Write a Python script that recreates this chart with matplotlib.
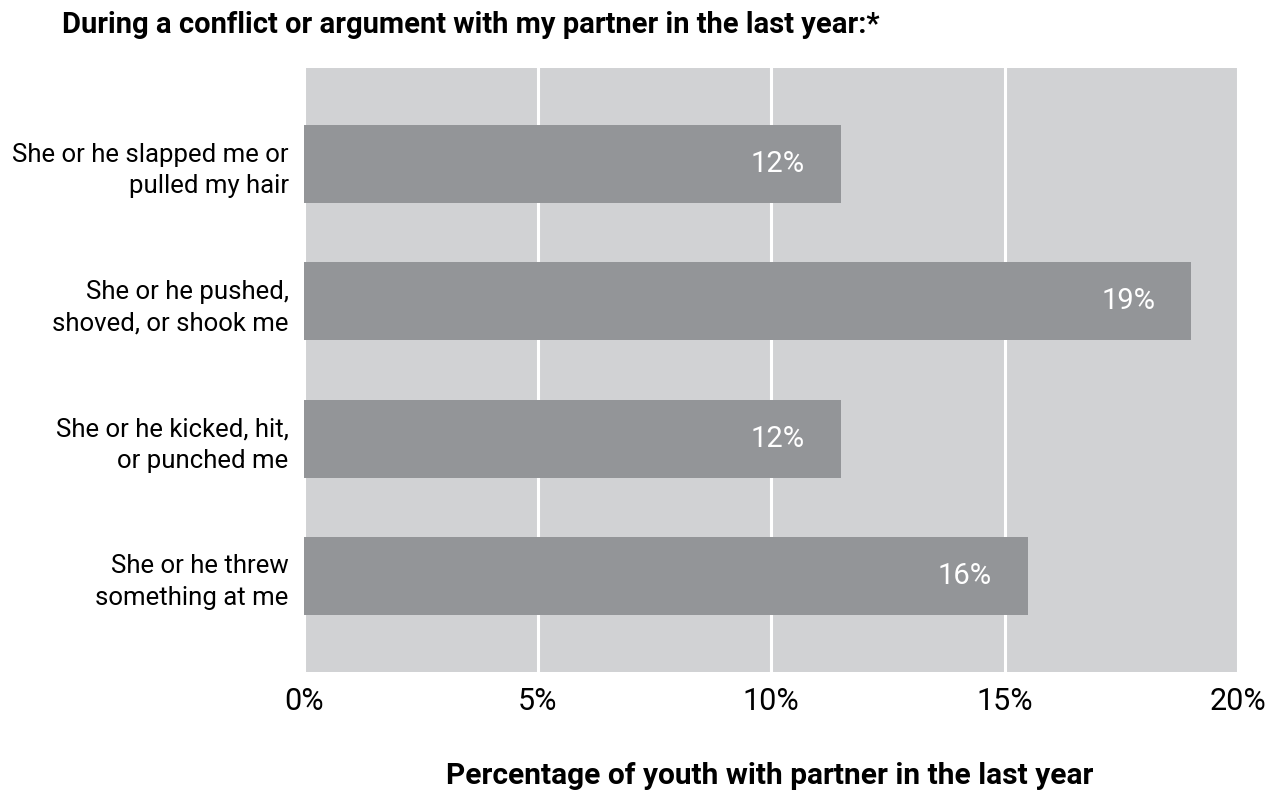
import matplotlib.pyplot as plt

plt.rcParams['font.family'] = ['Roboto', 'DejaVu Sans']

# Survey results, top to bottom
categories = [
    "She or he slapped me or\npulled my hair",
    "She or he pushed,\nshoved, or shook me",
    "She or he kicked, hit,\nor punched me",
    "She or he threw\nsomething at me",
]
percentages = [11.5, 19.0, 11.5, 15.5]
x_ticks = [0, 5, 10, 15, 20]
x_tick_labels = ["0%", "5%", "10%", "15%", "20%"]

BAR_COLOR = '#939598'
BG_COLOR = '#d1d2d4'

fig = plt.figure(figsize=(12.71, 7.90), dpi=100)
ax = fig.add_axes([304 / 1271, 1 - 672 / 790, (1238 - 304) / 1271, (672 - 68) / 790])
ax.set_facecolor(BG_COLOR)

y_pos = list(range(len(categories)))
bars = ax.barh(y_pos, percentages, height=0.57, color=BAR_COLOR, zorder=3)

for bar, val in zip(bars, percentages):
    ax.annotate(f"{val:.0f}%", xy=(bar.get_width(), bar.get_y() + bar.get_height() / 2),
                xytext=(-26, 0), textcoords='offset points',
                ha='right', va='center', color='white', fontsize=21, zorder=4)

ax.set_xlim(0, 20)
ax.set_ylim(len(categories) - 0.3, -0.7)
ax.set_xticks(x_ticks)
ax.set_xticklabels(x_tick_labels, fontsize=22)
ax.set_yticks(y_pos)
ax.set_yticklabels(categories, fontsize=18.5, linespacing=1.4)
ax.tick_params(axis='both', length=0)
ax.tick_params(axis='x', pad=11)
ax.tick_params(axis='y', pad=11)

ax.grid(axis='x', color='white', linewidth=2.2, zorder=1)
ax.grid(axis='y', visible=False)
for spine in ax.spines.values():
    spine.set_visible(False)

fig.text(62 / 1271, 1 - 33 / 790, "During a conflict or argument with my partner in the last year:*",
         fontsize=21, fontweight='bold', ha='left', va='baseline')
fig.text(770 / 1271, 1 - 784 / 790, "Percentage of youth with partner in the last year",
         fontsize=21.5, fontweight='bold', ha='center', va='baseline')

fig.savefig("out.png", dpi=100)
